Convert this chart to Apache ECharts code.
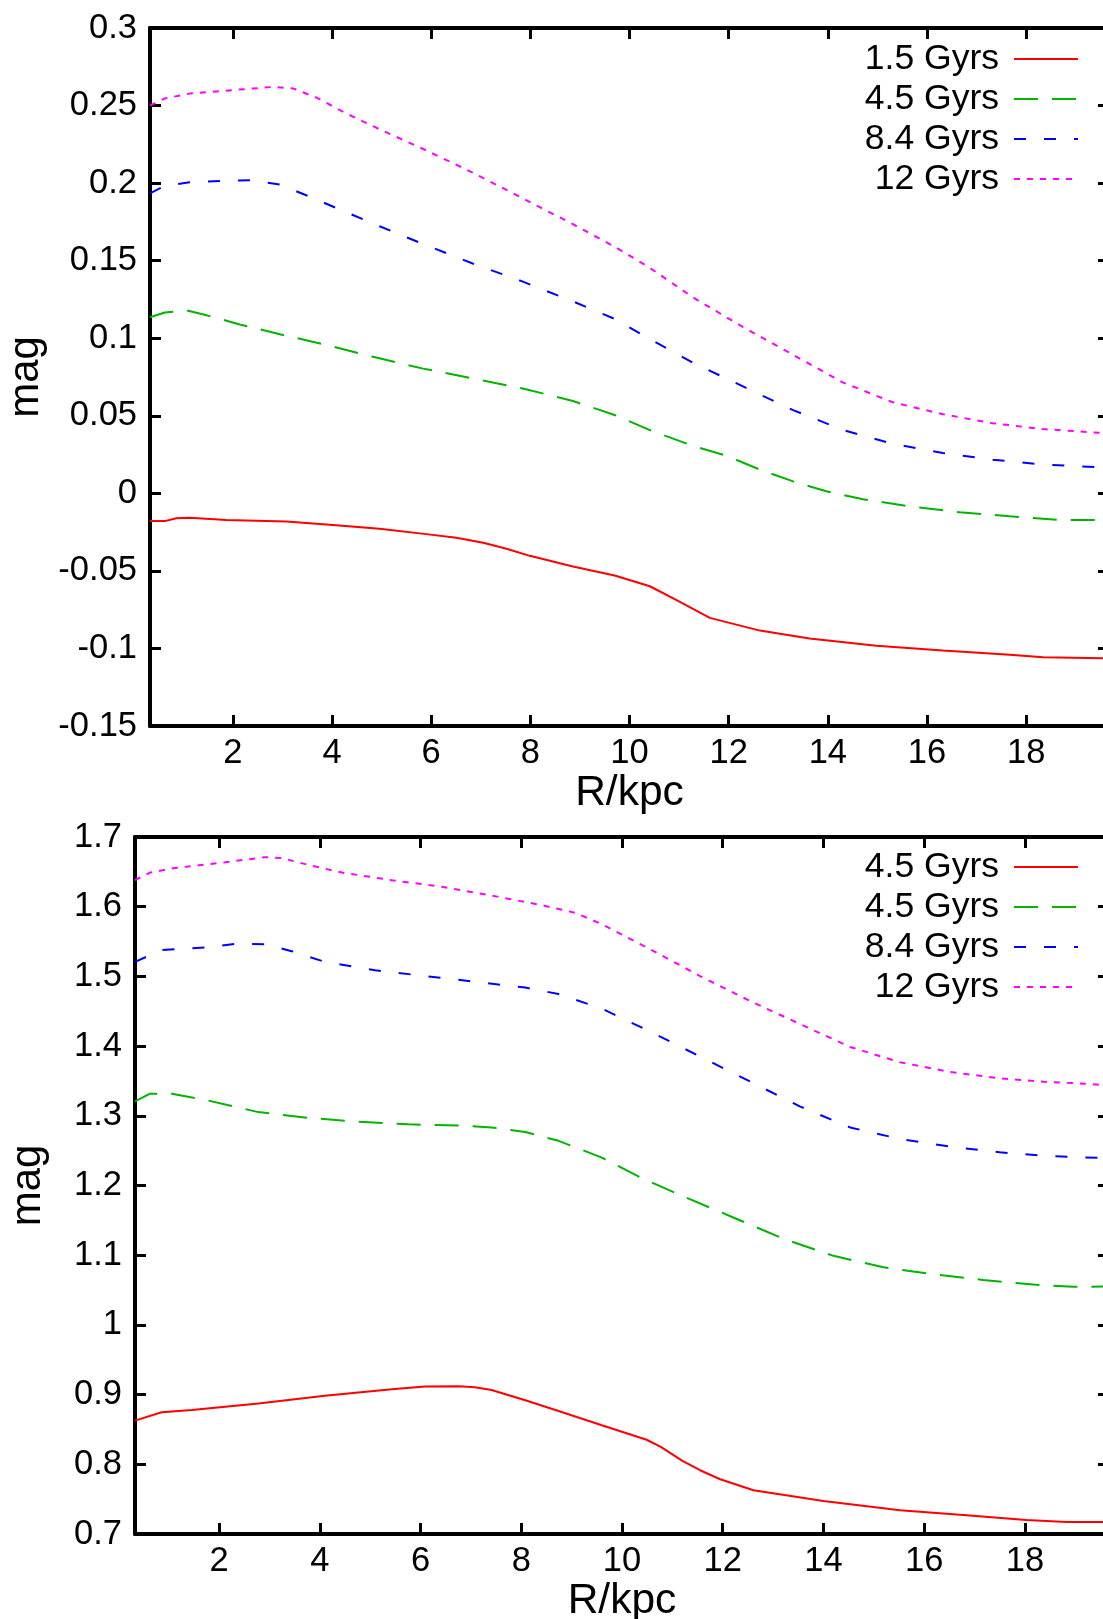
<!DOCTYPE html>
<html><head><meta charset="utf-8">
<script src="https://cdn.jsdelivr.net/npm/echarts@6/dist/echarts.min.js"></script>
<style>html,body{margin:0;padding:0;background:#fff}#c{width:1103px;height:1619px}</style>
</head><body><div id="c"></div>
<script>
// ---- data ----
const xTicks = [2, 4, 6, 8, 10, 12, 14, 16, 18];
const topLabels = ['1.5 Gyrs', '4.5 Gyrs', '8.4 Gyrs', '12 Gyrs'];
const bottomLabels = ['4.5 Gyrs', '4.5 Gyrs', '8.4 Gyrs', '12 Gyrs'];
const xTitle = 'R/kpc';
const yTitle = 'mag';

const topRed = [[0.33,-0.0179],[0.63,-0.0179],[0.86,-0.0161],[1.13,-0.0158],[1.87,-0.0172],[3.08,-0.0181],[4.02,-0.0204],[4.96,-0.0229],[5.9,-0.0263],[6.51,-0.0286],[7.05,-0.0319],[7.52,-0.0357],[7.99,-0.0403],[8.86,-0.0472],[9.7,-0.053],[10.41,-0.0599],[10.95,-0.0689],[11.62,-0.0803],[12.63,-0.0885],[13.63,-0.0936],[14.98,-0.0982],[16.32,-0.1013],[17.67,-0.1041],[18.34,-0.1056],[19.6,-0.1064]];
const topGreen = [[0.33,0.1135],[0.63,0.1166],[1.07,0.1179],[1.47,0.1148],[2.14,0.1089],[3.01,0.1021],[3.82,0.0962],[4.83,0.088],[5.84,0.0804],[6.85,0.074],[7.85,0.0676],[8.86,0.0595],[9.7,0.0505],[10.41,0.0408],[11.28,0.0306],[11.95,0.0243],[12.63,0.0153],[13.3,0.0077],[13.97,0.0013],[14.71,-0.0038],[15.65,-0.0084],[16.66,-0.0122],[17.67,-0.0148],[18.67,-0.0171],[19.6,-0.0173]];
const topBlue = [[0.33,0.1934],[0.63,0.1982],[1.13,0.2005],[1.81,0.2015],[2.41,0.2018],[2.95,0.199],[3.55,0.1913],[4.16,0.1829],[4.96,0.1722],[5.84,0.1607],[6.85,0.148],[7.85,0.1365],[8.86,0.1237],[9.7,0.1125],[10.41,0.0995],[11.28,0.0842],[12.29,0.0689],[13.3,0.0536],[14.31,0.0408],[15.31,0.0319],[16.32,0.026],[17.33,0.0217],[18.34,0.0186],[19.6,0.0166]];
const topMagenta = [[0.33,0.25],[0.63,0.2546],[1.13,0.2577],[2.01,0.26],[2.81,0.262],[3.22,0.261],[3.69,0.2551],[4.29,0.2449],[4.96,0.2347],[5.84,0.222],[6.85,0.2066],[7.85,0.1901],[8.86,0.1735],[9.7,0.159],[10.41,0.1454],[11.28,0.1263],[12.29,0.1072],[13.3,0.0893],[14.31,0.0714],[15.31,0.0587],[16.32,0.051],[17.33,0.0452],[18.34,0.0414],[19.6,0.0388]];

const botRed = [[0.33,0.8626],[0.86,0.8747],[1.46,0.878],[2.78,0.8874],[4.1,0.8984],[5.43,0.9077],[6.09,0.9116],[6.75,0.9121],[7.08,0.9105],[7.41,0.9066],[8.08,0.8918],[8.74,0.8764],[9.6,0.856],[10.49,0.8352],[10.77,0.825],[11.2,0.805],[11.55,0.7915],[11.95,0.7786],[12.61,0.7628],[14.0,0.7474],[15.52,0.7341],[16.84,0.7269],[18.03,0.7201],[18.83,0.7172],[19.6,0.7172]];
const botGreen = [[0.33,1.3207],[0.63,1.3317],[1.06,1.3317],[1.79,1.3218],[2.78,1.3053],[3.77,1.297],[4.77,1.2915],[5.76,1.2877],[6.75,1.2861],[7.41,1.2833],[8.08,1.2767],[8.74,1.2641],[9.6,1.24],[10.36,1.2118],[11.22,1.1843],[12.21,1.1541],[13.2,1.1238],[14.2,1.0991],[15.19,1.0826],[16.18,1.0727],[17.17,1.0645],[18.17,1.0579],[18.96,1.0546],[19.6,1.0551]];
const botBlue = [[0.33,1.5208],[0.86,1.5379],[1.79,1.5417],[2.38,1.5472],[2.91,1.5461],[3.44,1.5362],[4.1,1.5208],[5.1,1.5088],[6.09,1.5005],[7.08,1.4923],[8.08,1.484],[8.74,1.4747],[9.6,1.4538],[10.56,1.4208],[11.55,1.385],[12.54,1.3493],[13.53,1.3135],[14.53,1.2833],[15.52,1.2668],[16.51,1.2558],[17.5,1.2476],[18.5,1.2421],[19.6,1.2393]];
const botMagenta = [[0.33,1.638],[0.63,1.649],[1.13,1.6556],[2.12,1.6638],[2.91,1.671],[3.24,1.6699],[3.77,1.66],[4.44,1.649],[5.43,1.638],[6.42,1.6286],[7.41,1.616],[8.41,1.6022],[9.07,1.5912],[9.6,1.575],[10.56,1.539],[11.55,1.5005],[12.54,1.4648],[13.53,1.4318],[14.53,1.3988],[15.52,1.3768],[16.51,1.363],[17.5,1.3537],[18.5,1.3482],[19.09,1.3465],[19.6,1.3438]];

// ---- styles ----
const FONT = "'Liberation Sans', Arial, Helvetica, sans-serif";
const colors = ['#ff0000', '#00b400', '#0000ff', '#ff00ff'];
const dashes = ['solid', [24, 14], [12, 18], [6, 7]];
const X_MIN = 0.33, X_MAX = 19.67;

const chart = echarts.init(document.getElementById('c'), null, {renderer: 'canvas'});

const fmt = v => String(parseFloat(Number(v).toFixed(2)));

function xAx(gi, pos) {
  const main = pos === 'bottom';
  return {
    type: 'value', gridIndex: gi, position: pos, min: X_MIN, max: X_MAX,
    axisLine: {show: true, onZero: false, lineStyle: {color: '#000', width: 4}},
    axisTick: {show: true, inside: true, length: 11, customValues: xTicks, lineStyle: {color: '#000', width: 3}},
    axisLabel: {show: main, customValues: xTicks, margin: 10, fontSize: 34.5, fontFamily: FONT, color: '#000'},
    splitLine: {show: false},
    name: main ? xTitle : '', nameLocation: 'middle', nameGap: 39,
    nameTextStyle: {fontSize: 42.5, fontFamily: FONT, color: '#000'}
  };
}
function yAx(gi, pos, min, max, interval, gap) {
  const main = pos === 'left';
  return {
    type: 'value', gridIndex: gi, position: pos, min, max, interval,
    axisLine: {show: true, onZero: false, lineStyle: {color: '#000', width: 4}},
    axisTick: {show: true, inside: true, length: 11, lineStyle: {color: '#000', width: 3}},
    axisLabel: {show: main, margin: 13, fontSize: 34.5, fontFamily: FONT, color: '#000', formatter: fmt},
    splitLine: {show: false},
    name: main ? yTitle : '', nameLocation: 'middle', nameGap: gap,
    nameTextStyle: {fontSize: 42, fontFamily: FONT, color: '#000'}
  };
}

const labelMap = {};
const series = [];
function addSeries(gi, idx, data, label) {
  const id = (gi === 0 ? 't' : 'b') + idx;
  labelMap[id] = label;
  series.push({
    name: id, type: 'line', xAxisIndex: gi * 2, yAxisIndex: gi * 2,
    data: data, symbol: 'none', smooth: false,
    lineStyle: {color: colors[idx], width: 2, type: dashes[idx]},
    itemStyle: {color: colors[idx]}
  });
}
[topRed, topGreen, topBlue, topMagenta].forEach((d, i) => addSeries(0, i, d, topLabels[i]));
[botRed, botGreen, botBlue, botMagenta].forEach((d, i) => addSeries(1, i, d, bottomLabels[i]));

function legend(prefix, top) {
  return {
    data: [0, 1, 2, 3].map(i => prefix + i),
    formatter: n => labelMap[n],
    orient: 'vertical', align: 'right', right: 24, top: top, padding: 0,
    itemWidth: 64, itemHeight: 14, itemGap: 4, selectedMode: false,
    itemStyle: {opacity: 0},
    textStyle: {fontSize: 35.5, fontFamily: FONT, color: '#000', padding: [0, 10, 0, 0]}
  };
}

chart.setOption({
  animation: false,
  backgroundColor: '#fff',
  grid: [
    {left: 150, width: 959, top: 28, height: 698, outerBoundsMode: 'none', containLabel: false},
    {left: 135, width: 974, top: 837, height: 697, outerBoundsMode: 'none', containLabel: false}
  ],
  xAxis: [xAx(0, 'bottom'), xAx(0, 'top'), xAx(1, 'bottom'), xAx(1, 'top')],
  yAxis: [
    yAx(0, 'left', -0.15, 0.3, 0.05, 101), yAx(0, 'right', -0.15, 0.3, 0.05, 0),
    yAx(1, 'left', 0.7, 1.7, 0.1, 86), yAx(1, 'right', 0.7, 1.7, 0.1, 0)
  ],
  legend: [legend('t', 41), legend('b', 849)],
  series: series
});
</script></body></html>
